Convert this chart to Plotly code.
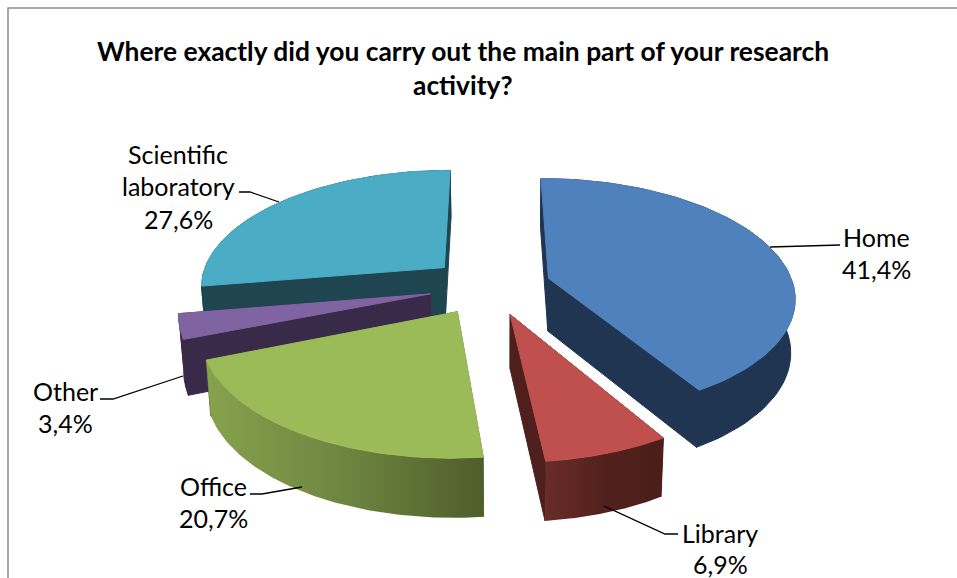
import numpy as np
import plotly.graph_objects as go

TITLE_LINES = ["Where exactly did you carry out the main part of your research", "activity?"]
CATEGORIES = ["Home", "Library", "Office", "Other", "Scientific laboratory"]
VALUES = [41.4, 6.9, 20.7, 3.4, 27.6]

# style / projection constants
EXPLODE = [0.25, 0.25, 0.25, 0.25, 0.25]
TOP_COLORS = ["#4F81BD", "#C0504D", "#9BBB59", "#8064A2", "#4BACC6"]
SIDE_COLORS = ["#1F3552", "#4E1F1C", "#5A6E32", "#392A4A", "#1F4650"]
WALL_SCALES = [
    None,
    [[0, "#692C28"], [0.5, "#52211D"], [1, "#4B1E1A"]],
    [[0, "#86A24E"], [0.5, "#6E8540"], [1, "#4E5E2B"]],
    None,
    None,
]
DRAW_ORDER = [4, 3, 0, 1, 2]
CX, CY, A, B, K = 490, 286, 245, 116.5, 0.147
DEPTH = 53
FONT = "Lato"
LABEL_SIZE = 25
TITLE_SIZE = 26.4

total = sum(VALUES)
edges = np.concatenate([[0], np.cumsum(VALUES)]) / total * 2 * np.pi


def project(U, V, low=False):
    s = 1 / (1 + K * V)
    x = CX + A * U * s
    y = CY - B * V * s
    if low:
        x = x + (505 - x) * 0.015
        y = y + DEPTH * s ** 0.6
    return x, y


fig = go.Figure()


def poly(xs, ys, color=None, scale=None):
    kw = dict(x=xs, y=ys, mode="lines", fill="toself", hoverinfo="skip", showlegend=False)
    if scale is not None:
        kw["fillgradient"] = dict(type="horizontal", colorscale=scale)
        kw["line"] = dict(width=0)
    else:
        kw["fillcolor"] = color
        kw["line"] = dict(width=1, color=color)
    fig.add_trace(go.Scatter(**kw))


for i in DRAW_ORDER:
    t0, t1 = edges[i], edges[i + 1]
    mid = (t0 + t1) / 2
    ox, oy = EXPLODE[i] * np.sin(mid), EXPLODE[i] * np.cos(mid)
    t = np.linspace(t0, t1, 80)
    U, V = ox + np.sin(t), oy + np.cos(t)
    xt, yt = project(U, V)
    xb, yb = project(U, V, low=True)
    axt, ayt = project(np.array([ox]), np.array([oy]))
    axb, ayb = project(np.array([ox]), np.array([oy]), low=True)
    # radial cut faces
    poly([axt[0], xt[0], xb[0], axb[0], axt[0]], [ayt[0], yt[0], yb[0], ayb[0], ayt[0]], color=SIDE_COLORS[i])
    poly([axt[0], xt[-1], xb[-1], axb[0], axt[0]], [ayt[0], yt[-1], yb[-1], ayb[0], ayt[0]], color=SIDE_COLORS[i])
    # outer wall
    poly(np.concatenate([xt, xb[::-1], xt[:1]]), np.concatenate([yt, yb[::-1], yt[:1]]),
         color=SIDE_COLORS[i], scale=WALL_SCALES[i])
    # top face
    poly(np.concatenate([axt, xt, axt]), np.concatenate([ayt, yt, ayt]), color=TOP_COLORS[i])

# frame
fig.add_trace(go.Scatter(x=[8, 8, 957], y=[578, 8, 8], mode="lines", line=dict(color="#8C8C8C", width=1.5),
                         hoverinfo="skip", showlegend=False))

# leader lines
LEADERS = [
    ([770, 840], [247, 245]),
    ([604, 665, 678], [506, 534, 534]),
    ([250, 262, 302], [494, 494, 487]),
    ([100, 113, 183], [399, 399, 376]),
    ([239, 250, 279], [192, 192, 202]),
]
for lx, ly in LEADERS:
    fig.add_trace(go.Scatter(x=lx, y=ly, mode="lines", line=dict(color="black", width=1.3),
                             hoverinfo="skip", showlegend=False))

# labels
LABEL_X = [876, 720, 213, 65, 178]
LABEL_Y = [[237, 269], [533, 564], [486, 518], [391, 423], [154, 186, 219]]
NAME_LINES = [["Home"], ["Library"], ["Office"], ["Other"], ["Scientific", "laboratory"]]
annotations = []
for i, v in enumerate(VALUES):
    lines = NAME_LINES[i] + [f"{v:.1f}%".replace(".", ",")]
    for text, y in zip(lines, LABEL_Y[i]):
        annotations.append(dict(x=LABEL_X[i], y=y, text=text, showarrow=False, xanchor="center", yanchor="middle",
                                font=dict(family=FONT, size=LABEL_SIZE, color="black")))
for text, y in zip(TITLE_LINES, [51, 85]):
    annotations.append(dict(x=463, y=y, text=f"<b>{text}</b>", showarrow=False, xanchor="center", yanchor="middle",
                            font=dict(family=FONT, size=TITLE_SIZE, color="black")))

fig.update_layout(
    width=957, height=578, margin=dict(l=0, r=0, t=0, b=0), paper_bgcolor="white", plot_bgcolor="white",
    xaxis=dict(range=[0, 957], visible=False, fixedrange=True),
    yaxis=dict(range=[578, 0], visible=False, fixedrange=True),
    annotations=annotations, showlegend=False,
)
fig.write_html("out.html", config=dict(displayModeBar=False),
               post_script="document.body.style.margin='0';document.body.style.overflow='hidden';")
